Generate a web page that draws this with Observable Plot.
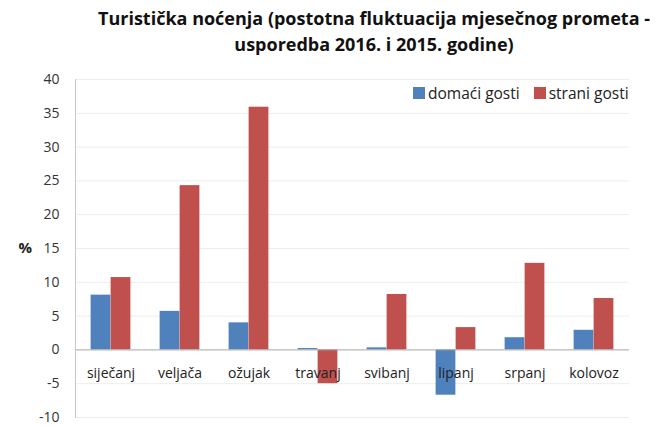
<!DOCTYPE html>
<html>
<head>
<meta charset="utf-8">
<script src="https://cdn.jsdelivr.net/npm/d3@7"></script>
<script src="https://cdn.jsdelivr.net/npm/@observablehq/plot@0.6"></script>
<style>
  body { margin: 0; background: #fff; font-family: "Open Sans", sans-serif; }
  #wrap { position: relative; width: 666px; height: 426px; }
  #title { box-sizing: border-box; margin-left: 82px; width: 584px; height: 60px; padding-top: 5px;
           text-align: center; font-weight: bold; font-size: 18px; line-height: 26px; color: #111; white-space: nowrap; }
  #legend { position: absolute; left: 413px; top: 82px; font-size: 15.5px; color: #222; display: flex; align-items: center; }
  #legend span.sw { display: inline-block; width: 12px; height: 12px; margin-right: 3px; }
  #legend span.lab { margin-right: 14px; }
  svg { display: block; }
</style>
</head>
<body>
<div id="wrap">
  <div id="title">Turistička noćenja (postotna fluktuacija mjesečnog prometa -<br>usporedba 2016. i 2015. godine)</div>
  <div id="legend"></div>
  <div id="chart"></div>
</div>
<script>
const months = ["siječanj", "veljača", "ožujak", "travanj", "svibanj", "lipanj", "srpanj", "kolovoz"];
const domaci = [8.1, 5.7, 4.0, 0.2, 0.3, -6.7, 1.8, 2.9];
const strani = [10.7, 24.3, 35.9, -5.0, 8.2, 3.3, 12.8, 7.6];
const seriesNames = ["domaći gosti", "strani gosti"];
const seriesColors = ["#4F81BD", "#C0504D"];
const yTicks = [-10, -5, 0, 5, 10, 15, 20, 25, 30, 35, 40];

const rows = months.map((m, i) => ({month: m, domaci: domaci[i], strani: strani[i]}));

const W = 666, H = 366, ML = 75, MR = 37;
const band = (W - ML - MR) / months.length;
const half = band / 2;
const barW = 20;

const chart = Plot.plot({
  width: W, height: H,
  marginTop: 19, marginBottom: 9, marginLeft: ML, marginRight: MR,
  style: {fontFamily: "'Open Sans', sans-serif", fontSize: "14px", color: "#333", background: "white"},
  x: {domain: months, padding: 0, axis: null},
  y: {domain: [-10, 40], axis: null},
  marks: [
    Plot.ruleY(yTicks.filter(t => t !== 0), {stroke: "#ededed", strokeWidth: 1}),
    Plot.axisY(yTicks, {tickSize: 0, tickPadding: 16, fontSize: 14, fill: "#333", label: null, tickFormat: d => String(d)}),
    Plot.barY(rows, {x: "month", y: "domaci", fill: seriesColors[0], insetLeft: half - barW, insetRight: half}),
    Plot.barY(rows, {x: "month", y: "strani", fill: seriesColors[1], insetLeft: half, insetRight: half - barW}),
    Plot.ruleY([0], {stroke: "#a6a6a6", strokeWidth: 1}),
    Plot.frame({anchor: "left", stroke: "#c8c8c8"}),
    Plot.text(rows, {x: "month", y: 0, dy: 24, text: "month", fontSize: 14, fill: "#222"}),
    Plot.text(["%"], {frameAnchor: "left", y: 15, dx: -57, text: d => d, fontSize: 15, fontWeight: "bold", fill: "#222"})
  ]
});
document.getElementById("chart").appendChild(chart);

const legend = document.getElementById("legend");
seriesNames.forEach((name, i) => {
  const sw = document.createElement("span");
  sw.className = "sw";
  sw.style.background = seriesColors[i];
  const lab = document.createElement("span");
  lab.className = "lab";
  lab.textContent = name;
  legend.appendChild(sw);
  legend.appendChild(lab);
});
</script>
</body>
</html>
